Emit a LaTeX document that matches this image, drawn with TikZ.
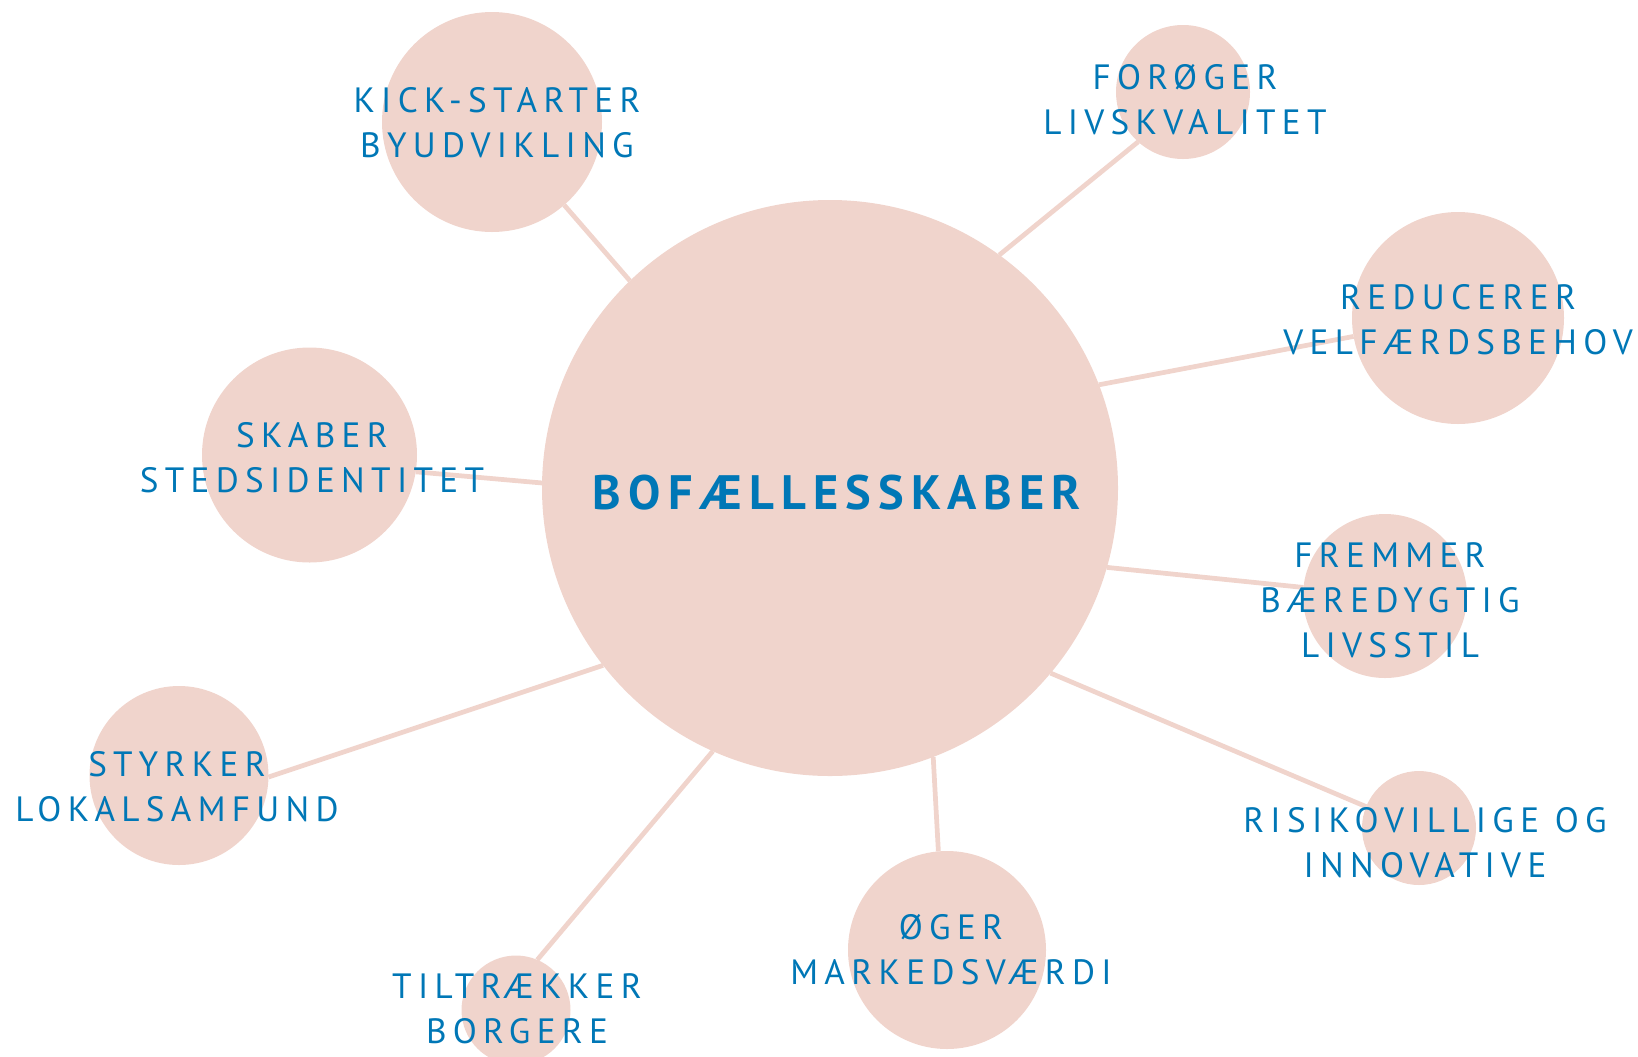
\documentclass[tikz,border=0pt]{standalone}
\usepackage{fontspec}
\newfontfamily\dinfont{PT Sans}[LetterSpace=18]
\newfontfamily\dinbold{PT Sans Bold}[LetterSpace=15]
\usepackage{tikz}
\usetikzlibrary{calc}

\definecolor{bubblepink}{RGB}{240,212,204}
\definecolor{textblue}{RGB}{0,119,182}

\tikzset{
  bubble/.style={circle, fill=bubblepink, draw=none, inner sep=0pt, outer sep=0pt},
  spoke/.style={draw=bubblepink, line width=2.7pt},
  word/.style={text=textblue, align=center, inner sep=0pt, font=\dinfont\fontsize{20}{25.6}\selectfont},
  maintext/.style={text=textblue, inner sep=0pt, font=\dinbold\fontsize{27.5}{33}\selectfont},
}

\begin{document}
\begin{tikzpicture}

    %% Background
    \useasboundingbox (0,0) rectangle (32.76,-21.12);

    % Bubbles
    \node[bubble, minimum size=11.52cm] (hub) at (16.6,-9.76) {};
    \node[bubble, minimum size=4.4cm] (kick) at (9.84,-2.44) {};
    \node[bubble, minimum size=2.68cm] (livs) at (23.66,-1.84) {};
    \node[bubble, minimum size=4.24cm] (velfaerd) at (29.16,-6.36) {};
    \node[bubble, minimum size=4.3cm] (sted) at (6.19,-9.1) {};
    \node[bubble, minimum size=3.28cm] (baeredygtig) at (27.7,-11.92) {};
    \node[bubble, minimum size=2.28cm] (risiko) at (28.38,-16.56) {};
    \node[bubble, minimum size=3.96cm] (marked) at (18.94,-19.0) {};
    \node[bubble, minimum size=2.18cm] (borgere) at (10.32,-20.2) {};
    \node[bubble, minimum size=3.58cm] (lokal) at (3.58,-15.51) {};

    % Spokes
    \draw[spoke] (hub.134) -- (kick.-49);
    \draw[spoke] (hub.54) -- (livs.228);
    \draw[spoke] (hub.21) -- (velfaerd.190);
    \draw[spoke] (hub.179.4) -- (sted.-9);
    \draw[spoke] (hub.-16) -- (baeredygtig.174);
    \draw[spoke] (hub.-40) -- (risiko.158);
    \draw[spoke] (hub.-69) -- (marked.95);
    \draw[spoke] (hub.-114) -- (borgere.67);
    \draw[spoke] (hub.-142) -- (lokal.-1);

    % Labels
    \node[maintext] (hub-txt) at (16.74,-9.86) {BOFÆLLESSKABER};
    \node[word] (kick-txt) at (9.94,-2.46) {KICK-STARTER\\BYUDVIKLING};
    \node[word] (livs-txt) at (23.7,-2.0) {FORØGER\\LIVSKVALITET};
    \node[word] (velfaerd-txt) at (29.16,-6.4) {REDUCERER\\VELFÆRDSBEHOV};
    \node[word] (sted-txt) at (6.24,-9.16) {SKABER\\STEDSIDENTITET};
    \node[word] (baeredygtig-txt) at (27.8,-12.0) {FREMMER\\BÆREDYGTIG\\LIVSSTIL};
    \node[word] (risiko-txt) at (28.5,-16.86) {RISIKOVILLIGE OG\\INNOVATIVE};
    \node[word] (marked-txt) at (19.02,-19.0) {ØGER\\MARKEDSVÆRDI};
    \node[word] (borgere-txt) at (10.34,-20.17) {TILTRÆKKER\\BORGERE};
    \node[word] (lokal-txt) at (3.54,-15.74) {STYRKER\\LOKALSAMFUND};

\end{tikzpicture}
\end{document}
